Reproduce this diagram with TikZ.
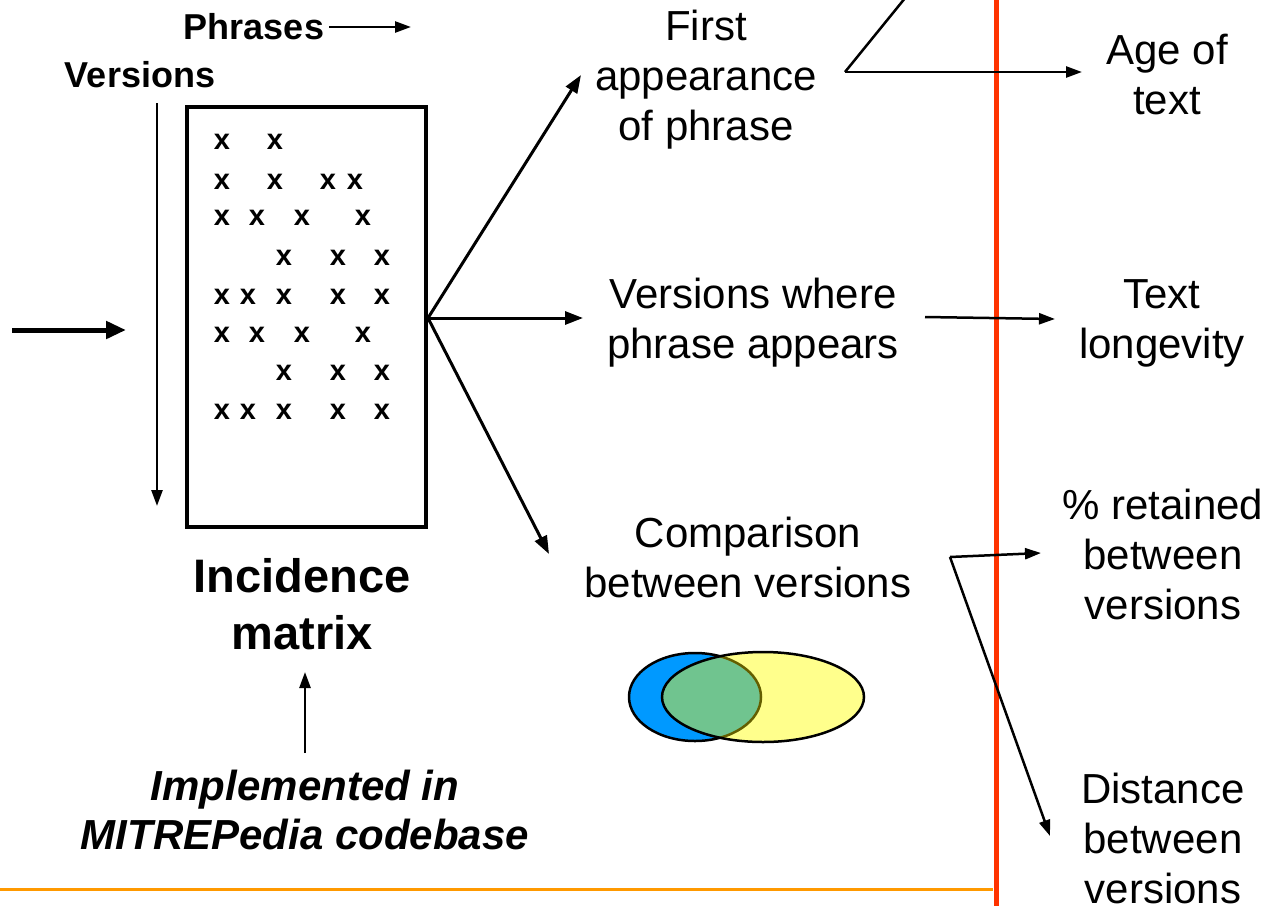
\documentclass[tikz,border=0pt]{standalone}
\usepackage{fontspec}
\setmainfont{Liberation Sans}
\usetikzlibrary{arrows.meta}
\definecolor{redline}{RGB}{255,51,0}
\definecolor{orangeline}{RGB}{255,153,0}
\definecolor{vblue}{RGB}{0,153,255}
\definecolor{vyellow}{RGB}{255,255,140}
\definecolor{vgreen}{RGB}{112,196,143}
\definecolor{volive}{RGB}{100,95,0}
\begin{document}
\begin{tikzpicture}[x=1pt,y=-1pt,
  lbl/.style={align=center, font=\fontsize{42}{50}\selectfont, inner sep=0pt},
  hdr/.style={font=\fontsize{36}{36}\selectfont\bfseries, inner sep=0pt},
  arr/.style={-{Triangle[length=18pt,width=13pt]}, line width=3pt},
  thin arr/.style={-{Triangle[length=16pt,width=11pt]}, line width=2.5pt},
  xm/.style={font=\fontsize{29}{29}\selectfont\bfseries, inner sep=0pt}
]
\useasboundingbox (0,0) rectangle (1275,906);

% separators
\draw[line width=3pt, orangeline] (0,889) -- (993,889);
\draw[line width=5pt, redline] (996,0) -- (996,906);

% matrix
\node[draw, line width=3.5pt, minimum width=239pt, minimum height=420pt, inner sep=0pt] (mat) at (306.5,317) {};
\foreach \n/\px/\py in {
  a1/222/142, a2/275/142,
  b1/222/182, b2/275/182, b3/328/182, b4/355/182,
  c1/222/218, c2/257/218, c3/302/218, c4/363/218,
  d1/284/258, d2/338/258, d3/382/258,
  e1/222/297, e2/248/297, e3/284/297, e4/338/297, e5/382/297,
  f1/222/335, f2/257/335, f3/302/335, f4/363/335,
  g1/284/373, g2/338/373, g3/382/373,
  h1/222/412, h2/248/412, h3/284/412, h4/338/412, h5/382/412}
  \node[xm] (x\n) at (\px,\py) {x};

% headers
\node[hdr] (phr) at (254,27) {Phrases};
\coordinate (phrEnd) at (411,27);
\draw[thin arr] ([xshift=5pt]phr.east) -- (phrEnd);
\node[hdr] (ver) at (140,75) {Versions};
\coordinate (verTop) at (157,103);
\coordinate (verEnd) at (157,506);
\draw[thin arr] (verTop) -- (verEnd);

% input arrow
\coordinate (inStart) at (12,330);
\coordinate (inEnd) at (126,330);
\draw[-{Triangle[length=20pt,width=17pt]}, line width=5pt] (inStart) -- (inEnd);

% incidence matrix label
\node[align=center, font=\fontsize{47}{57}\selectfont\bfseries, inner sep=0pt] (inc) at (302,604) {Incidence\\matrix};
\coordinate (impTop) at (305,672);
\node[align=center, font=\fontsize{42}{49}\selectfont\bfseries\itshape, inner sep=0pt] (imp) at (305,810) {Implemented in\\MITREPedia codebase};
\coordinate (impBase) at (305,753);
\draw[thin arr] (impBase) -- (impTop);

% middle column
\node[lbl] (first) at (706,80) {First\\appearance\\of phrase};
\node[lbl] (where) at (753,323) {Versions where\\phrase appears};
\node[lbl] (comp) at (748,557) {Comparison\\between versions};

\coordinate (m) at (428,318);
\coordinate (t1) at (581,75);
\coordinate (t2) at (583,318);
\coordinate (t3) at (549,554);
\draw[arr] (m) -- (t1);
\draw[arr] (m) -- (t2);
\draw[arr] (m) -- (t3);

% venn
\fill[vblue] (695,697) ellipse [x radius=66, y radius=44];
\draw[line width=2.5pt] (695,697) ellipse [x radius=66, y radius=44];
\fill[vyellow] (763,697) ellipse [x radius=101, y radius=45];
\begin{scope}
  \clip (763,697) ellipse [x radius=101, y radius=45];
  \fill[vgreen] (695,697) ellipse [x radius=66, y radius=44];
  \draw[line width=2.5pt, volive] (695,697) ellipse [x radius=66, y radius=44];
\end{scope}
\draw[line width=2.5pt] (763,697) ellipse [x radius=101, y radius=45];

% right column
\node[lbl] (age) at (1167,75) {Age of\\text};
\node[lbl] (lon) at (1162,323) {Text\\longevity};
\node[lbl] (ret) at (1163,554) {\%~retained\\between\\versions};
\node[lbl] (dist) at (1163,838) {Distance\\between\\versions};

\coordinate (j1) at (845,72);
\coordinate (j1top) at (910,-8);
\coordinate (j1end) at (1082,72);
\draw[line width=2.5pt] (j1top) -- (j1);
\draw[thin arr] (j1) -- (j1end);

\coordinate (j2) at (925,317);
\coordinate (j2end) at (1055,319);
\draw[thin arr] (j2) -- (j2end);

\coordinate (j3) at (950,557);
\coordinate (j3a) at (1041,553);
\coordinate (j3b) at (1050,836);
\draw[thin arr] (j3) -- (j3a);
\draw[thin arr] (j3) -- (j3b);
\end{tikzpicture}
\end{document}
